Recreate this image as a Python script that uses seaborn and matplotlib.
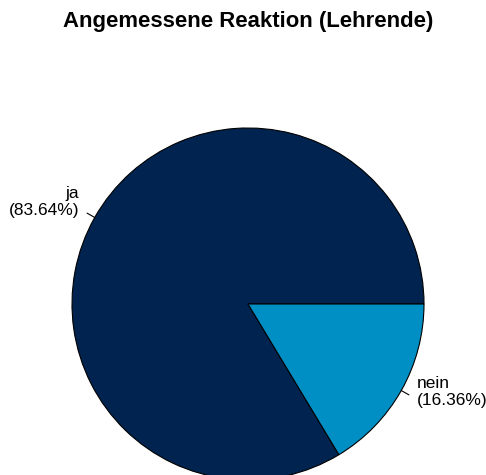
import numpy as np
import seaborn as sns
import matplotlib.pyplot as plt

# Data
categories = ["ja", "nein"]
percentages = [83.64, 16.36]
colors = ["#00234F", "#008FC5"]

sns.set_theme(style="white")
plt.rcParams["font.family"] = ["Liberation Sans", "DejaVu Sans"]

W, H = 486, 475
fig = plt.figure(figsize=(W / 100, H / 100), dpi=100)
ax = fig.add_axes([0, 0, 1, 1])

# pie centre / radius in pixels
cx, cy, r = 248, 171, 176

wedges, _ = ax.pie(percentages, colors=colors, startangle=0, counterclock=True,
                   radius=1.0, wedgeprops=dict(edgecolor="black", linewidth=0.8))
ax.set_xlim(-cx / r, (W - cx) / r)
ax.set_ylim(-cy / r, (H - cy) / r)
ax.set_aspect("auto")
ax.axis("off")

# labels with short tick lines (R style)
start = 0.0
for cat, pct in zip(categories, percentages):
    mid = np.deg2rad(start + pct * 3.6 / 2)
    start += pct * 3.6
    c, s = np.cos(mid), np.sin(mid)
    ax.plot([c, 1.05 * c], [s, 1.05 * s], color="black", lw=0.8)
    ax.text(1.1 * c, 1.1 * s + 0.04, f"{cat}\n({pct:.2f}%)",
            ha="right" if c < 0 else "left", va="center", fontsize=12.5,
            color="black", linespacing=1.2)

fig.text(248 / W, 1 - 22 / H, "Angemessene Reaktion (Lehrende)", ha="center",
         va="center", fontsize=15.9, fontweight="bold", color="black")

plt.savefig("out.png", dpi=100, facecolor="white")
